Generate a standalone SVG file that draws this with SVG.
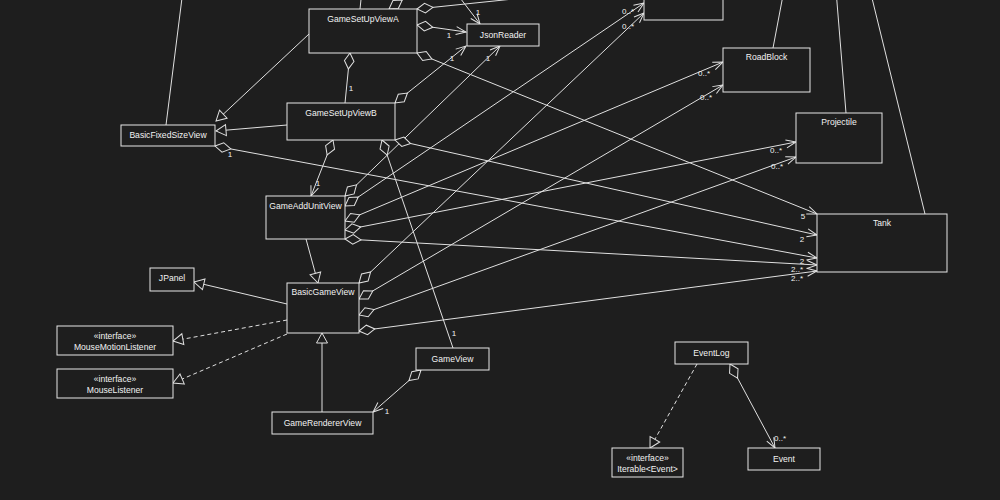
<svg xmlns="http://www.w3.org/2000/svg" width="1000" height="500" viewBox="0 0 1000 500">
<style>
.bg{fill:#1e1e1e}
.box{fill:#1e1e1e;stroke:#e6e6e6;stroke-width:1}
text{fill:#f2f2f2;font-family:"Liberation Sans",Arial,sans-serif;font-size:8.6px}
.c{text-anchor:middle}
.m{font-size:8px;text-anchor:middle}
.ln{stroke:#e0e0e0;stroke-width:1;fill:none}
.dash{stroke-dasharray:4,3}
.gen{marker-end:url(#tri)}
.agg{marker-start:url(#dia)}
.nav{marker-end:url(#arr)}
</style>
<defs>
<marker id="dia" markerUnits="userSpaceOnUse" markerWidth="18" markerHeight="12" refX="0" refY="6" orient="auto" overflow="visible"><path d="M0,6 L8,1.2 L16,6 L8,10.8 Z" fill="#1e1e1e" stroke="#e0e0e0" stroke-width="1"/></marker>
<marker id="arr" markerUnits="userSpaceOnUse" markerWidth="12" markerHeight="10" refX="10" refY="4" orient="auto" overflow="visible"><path d="M0,0 L10,4 L0,8" fill="none" stroke="#e0e0e0" stroke-width="1"/></marker>
<marker id="tri" markerUnits="userSpaceOnUse" markerWidth="12" markerHeight="12" refX="10" refY="5.5" orient="auto" overflow="visible"><path d="M0,0 L10,5.5 L0,11 Z" fill="#1e1e1e" stroke="#e0e0e0" stroke-width="1"/></marker>
</defs>
<rect class="bg" x="0" y="0" width="1000" height="500"/>

<g id="connectors">
<path class="ln" d="M166,125 L183,-10"/>
<path class="ln" d="M360,9 L362,-10"/>
<path class="ln" d="M773,48 L784,-10"/>
<path class="ln" d="M846,113 L836,-10"/>
<path class="ln" d="M925,214 L870,-10"/>
<path class="ln nav" d="M454,-10 L480,24"/>
<path class="ln agg" d="M417,9 L600,-10"/>
<path class="ln agg" d="M389,9 L420,-12"/>

<path class="ln gen" d="M309,34 L216,121"/>
<path class="ln gen" d="M287,125 L216,131"/>
<path class="ln gen" d="M306,239 L318,283"/>
<path class="ln gen" d="M287,304 L194,282"/>
<path class="ln gen dash" d="M287,320 L173,341"/>
<path class="ln gen dash" d="M287,334 L173,383"/>
<path class="ln gen" d="M322,412 L322,333"/>
<path class="ln gen dash" d="M697,364 L650,448"/>

<path class="ln agg" d="M350,53 L345,103"/>
<path class="ln agg nav" d="M417,25 L466,32"/>
<path class="ln agg nav" d="M395,103 L466,46"/>
<path class="ln agg nav" d="M345,196 L500,46"/>
<path class="ln agg nav" d="M345,206 L644,3"/>
<path class="ln agg nav" d="M359,283 L644,13"/>
<path class="ln agg nav" d="M345,221 L723,62"/>
<path class="ln agg nav" d="M359,299 L723,85"/>
<path class="ln agg nav" d="M345,230 L796,142"/>
<path class="ln agg nav" d="M359,315 L796,157"/>
<path class="ln agg nav" d="M345,239 L817,265"/>
<path class="ln agg nav" d="M359,331 L817,271"/>
<path class="ln agg nav" d="M395,140 L817,235"/>
<path class="ln agg nav" d="M215,146 L817,258"/>
<path class="ln agg nav" d="M417,53 L817,214"/>
<path class="ln agg nav" d="M333,140 L311,196"/>
<path class="ln agg" d="M382,140 L453,348"/>
<path class="ln agg nav" d="M421,370 L373,412"/>
<path class="ln agg nav" d="M730,364 L775,448"/>

<text class="m" x="351" y="91">1</text>
<text class="m" x="449" y="38">1</text>
<text class="m" x="478" y="15">1</text>
<text class="m" x="452" y="61">1</text>
<text class="m" x="488" y="61">1</text>
<text class="m" x="628" y="14">0..*</text>
<text class="m" x="628" y="29">0..*</text>
<text class="m" x="704" y="76">0..*</text>
<text class="m" x="706" y="100">0..*</text>
<text class="m" x="776" y="153">0..*</text>
<text class="m" x="777" y="169">0..*</text>
<text class="m" x="803" y="219">5</text>
<text class="m" x="802" y="242">2</text>
<text class="m" x="802" y="264">2</text>
<text class="m" x="797" y="272">2..*</text>
<text class="m" x="797" y="281">2..*</text>
<text class="m" x="318" y="186">1</text>
<text class="m" x="454" y="336">1</text>
<text class="m" x="387" y="414">1</text>
<text class="m" x="230" y="157">1</text>
<text class="m" x="780" y="441">0..*</text>
</g>

<g id="TopBox"><rect class="box" x="644" y="-31" width="79" height="51"/></g>
<g id="GameSetUpViewA"><rect class="box" x="309" y="9" width="108" height="44"/><text class="c" x="363" y="22">GameSetUpViewA</text></g>
<g id="JsonReader"><rect class="box" x="467" y="24" width="72" height="22"/><text class="c" x="503" y="38">JsonReader</text></g>
<g id="GameSetUpViewB"><rect class="box" x="287" y="103" width="108" height="37"/><text class="c" x="341" y="116">GameSetUpViewB</text></g>
<g id="BasicFixedSizeView"><rect class="box" x="121" y="125" width="94" height="21"/><text class="c" x="168" y="138">BasicFixedSizeView</text></g>
<g id="GameAddUnitView"><rect class="box" x="266" y="196" width="79" height="43"/><text class="c" x="305.5" y="209">GameAddUnitView</text></g>
<g id="BasicGameView"><rect class="box" x="287" y="283" width="72" height="50"/><text class="c" x="323" y="295">BasicGameView</text></g>
<g id="JPanel"><rect class="box" x="150" y="268" width="44" height="23"/><text class="c" x="172" y="281">JPanel</text></g>
<g id="MouseMotionListener"><rect class="box" x="57" y="326" width="116" height="29"/><text class="c" x="115" y="339">«interface»</text><text class="c" x="115" y="349.5">MouseMotionListener</text></g>
<g id="MouseListener"><rect class="box" x="57" y="369" width="116" height="29"/><text class="c" x="115" y="382">«interface»</text><text class="c" x="115" y="392.5">MouseListener</text></g>
<g id="GameView"><rect class="box" x="416" y="348" width="73" height="22"/><text class="c" x="452.5" y="362">GameView</text></g>
<g id="GameRendererView"><rect class="box" x="272" y="412" width="101" height="22"/><text class="c" x="322.5" y="426">GameRendererView</text></g>
<g id="RoadBlock"><rect class="box" x="723" y="48" width="87" height="44"/><text class="c" x="766.5" y="60">RoadBlock</text></g>
<g id="Projectile"><rect class="box" x="796" y="113" width="86" height="50"/><text class="c" x="839" y="125">Projectile</text></g>
<g id="Tank"><rect class="box" x="817" y="214" width="130" height="58"/><text class="c" x="882" y="226">Tank</text></g>
<g id="EventLog"><rect class="box" x="675" y="342" width="73" height="22"/><text class="c" x="711.5" y="356">EventLog</text></g>
<g id="IterableEvent"><rect class="box" x="612" y="448" width="71" height="29"/><text class="c" x="647.5" y="461">«interface»</text><text class="c" x="647.5" y="472">Iterable&lt;Event&gt;</text></g>
<g id="Event"><rect class="box" x="748" y="448" width="72" height="22"/><text class="c" x="784" y="462">Event</text></g>
</svg>
